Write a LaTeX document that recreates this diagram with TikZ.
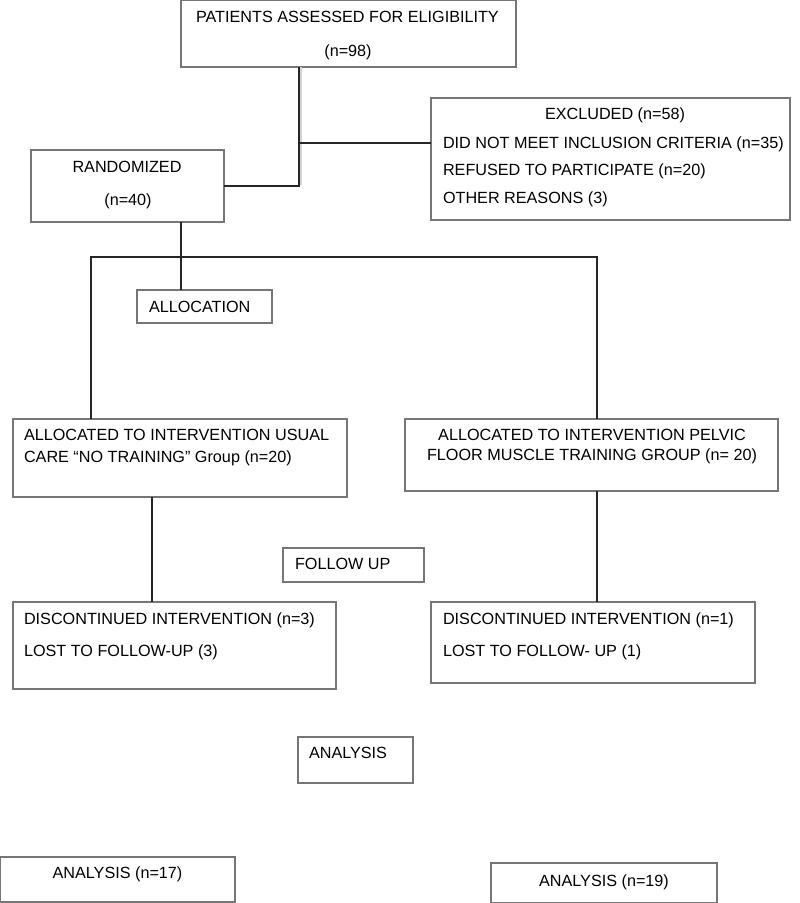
\documentclass[tikz,border=0pt]{standalone}
\usepackage{fontspec}
\setmainfont{Liberation Sans}
\definecolor{boxgray}{HTML}{767676}
\definecolor{linedark}{HTML}{262626}
\begin{document}
\begin{tikzpicture}[x=1pt,y=-1pt,
  box/.style={draw=boxgray, line width=1.2pt, inner sep=0pt, outer sep=0pt},
  txt/.style={inner sep=0pt, outer sep=0pt, text=black, font=\fontsize{16.2}{19}\selectfont},
  conn/.style={draw=linedark, line width=1.4pt}]
\useasboundingbox (0,0) rectangle (800,903);
% boxes
\node[box, minimum width=335pt, minimum height=66.3pt] (pat) at (348.5,33.9) {};
\node[box, minimum width=193pt, minimum height=72pt] (rand) at (127.5,186) {};
\node[box, minimum width=359pt, minimum height=122pt] (excl) at (610.5,159) {};
\node[box, minimum width=135pt, minimum height=33pt] (alloc) at (204.5,306.5) {};
\node[box, minimum width=334pt, minimum height=78pt] (lalloc) at (180,458) {};
\node[box, minimum width=373pt, minimum height=72pt] (ralloc) at (591.5,455) {};
\node[box, minimum width=141pt, minimum height=34pt] (follow) at (353.5,565) {};
\node[box, minimum width=323pt, minimum height=87pt] (ldisc) at (174.5,645.5) {};
\node[box, minimum width=324pt, minimum height=81pt] (rdisc) at (593,642.5) {};
\node[box, minimum width=115pt, minimum height=46pt] (anal) at (355.5,760) {};
\node[box, minimum width=234.3pt, minimum height=45pt] (an17) at (117.85,879.5) {};
\node[box, minimum width=226pt, minimum height=39.3pt] (an19) at (604,882.65) {};
% texts
\node[txt, anchor=base west] (t1) at (196,22) {PATIENTS ASSESSED FOR ELIGIBILITY};
\node[txt, anchor=base] (t2) at (348,56) {(n=98)};
\node[txt, anchor=base] (t3) at (127,172) {RANDOMIZED};
\node[txt, anchor=base] (t4) at (128,205) {(n=40)};
\node[txt, anchor=base] (t5) at (615,119) {EXCLUDED (n=58)};
\node[txt, anchor=base west] (t6) at (443,148) {DID NOT MEET INCLUSION CRITERIA (n=35)};
\node[txt, anchor=base west] (t7) at (443,175) {REFUSED TO PARTICIPATE (n=20)};
\node[txt, anchor=base west] (t8) at (443,203) {OTHER REASONS (3)};
\node[txt, anchor=base west] (t9) at (149,312) {ALLOCATION};
\node[txt, anchor=base west] (t10) at (24,440) {ALLOCATED TO INTERVENTION USUAL};
\node[txt, anchor=base west] (t11) at (24,462) {CARE “NO TRAINING” Group (n=20)};
\node[txt, anchor=base] (t12) at (592,440) {ALLOCATED TO INTERVENTION PELVIC};
\node[txt, anchor=base] (t13) at (592,460) {FLOOR MUSCLE TRAINING GROUP (n= 20)};
\node[txt, anchor=base west] (t14) at (295,569) {FOLLOW UP};
\node[txt, anchor=base west] (t15) at (24,624) {DISCONTINUED INTERVENTION (n=3)};
\node[txt, anchor=base west] (t16) at (24,656) {LOST TO FOLLOW-UP (3)};
\node[txt, anchor=base west] (t17) at (443,624) {DISCONTINUED INTERVENTION (n=1)};
\node[txt, anchor=base west] (t18) at (443,656) {LOST TO FOLLOW- UP (1)};
\node[txt, anchor=base west] (t19) at (309,758) {ANALYSIS};
\node[txt, anchor=base] (t20) at (117.5,878) {ANALYSIS (n=17)};
\node[txt, anchor=base] (t21) at (604,886) {ANALYSIS (n=19)};
% junctions
\coordinate (j1) at (299,186);
\coordinate (j2) at (299,143);
\coordinate (j3) at (181,257);
\coordinate (jl) at (91,257);
\coordinate (jr) at (597,257);
\coordinate (k1) at (152,0);
\coordinate (k2) at (597,0);
% connectors
\draw[gray!35, line width=2pt] ([xshift=2pt]j1 |- pat.south) -- ([xshift=2pt,yshift=1pt]j1);
\draw[conn] (j1 |- pat.south) -- (j1) -- (j1 -| rand.east);
\draw[conn] (j2) -- (j2 -| excl.west);
\draw[conn] (j3 |- rand.south) -- (j3 |- alloc.north);
\draw[conn] (jl |- lalloc.north) -- (jl) -- (jr) -- (jr |- ralloc.north);
\draw[conn] (k1 |- lalloc.south) -- (k1 |- ldisc.north);
\draw[conn] (k2 |- ralloc.south) -- (k2 |- rdisc.north);
\end{tikzpicture}
\end{document}
